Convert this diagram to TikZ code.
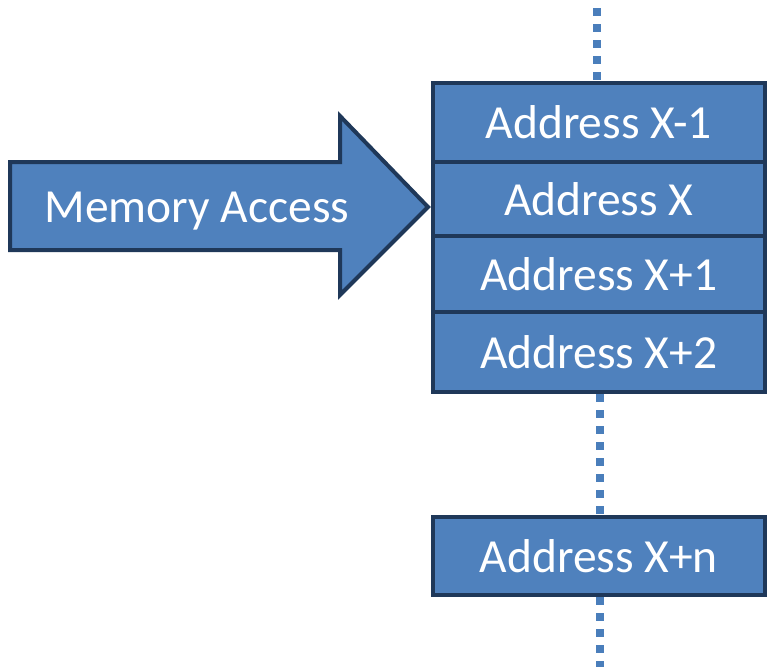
\documentclass[tikz,border=0pt]{standalone}
\usepackage{fontspec}
\setmainfont{Carlito}
\definecolor{cellblue}{HTML}{4F81BD}
\definecolor{cellline}{HTML}{1F3859}
\definecolor{dotblue}{HTML}{4A7EBB}
\begin{document}
\begin{tikzpicture}[x=1pt,y=-1pt,
  cell/.style={draw=cellline,fill=cellblue,line width=4pt,
    minimum width=332.5pt,inner sep=0pt,text=white,
    font=\fontsize{47.5}{57}\selectfont},
  dotline/.style={draw=dotblue,line width=8pt,dash pattern=on 8pt off 8pt}]
\useasboundingbox (0,0) rectangle (767,670);

% memory cells
\node[cell,minimum height=79pt] (b1) at (598.75,122.5) {Address X-1};
\node[cell,minimum height=74pt] (b2) at (598.75,199) {Address X};
\node[cell,minimum height=76pt] (b3) at (598.75,274) {Address X+1};
\node[cell,minimum height=80pt] (b4) at (598.75,352) {Address X+2};
\node[cell,minimum height=78.5pt] (bn) at (598.75,556) {Address X+n};

% dotted continuation lines
\coordinate (topend) at (597,8);
\coordinate (botend) at (600,667);
\draw[dotline] (topend) -- (topend |- b1.north);
\draw[dotline] (b4.south -| botend) -- (bn.north -| botend);
\draw[dotline] (bn.south -| botend) -- (botend);

% access arrow
\draw[draw=cellline,fill=cellblue,line width=4pt,line join=miter]
  (10,162) -- (340,162) -- (340,116) -- (428,207) -- (340,295)
  -- (340,250) -- (10,250) -- cycle;
\node[text=white,font=\fontsize{47.5}{57}\selectfont,text depth=0pt] (acc) at (197,207) {Memory Access};
\end{tikzpicture}
\end{document}
